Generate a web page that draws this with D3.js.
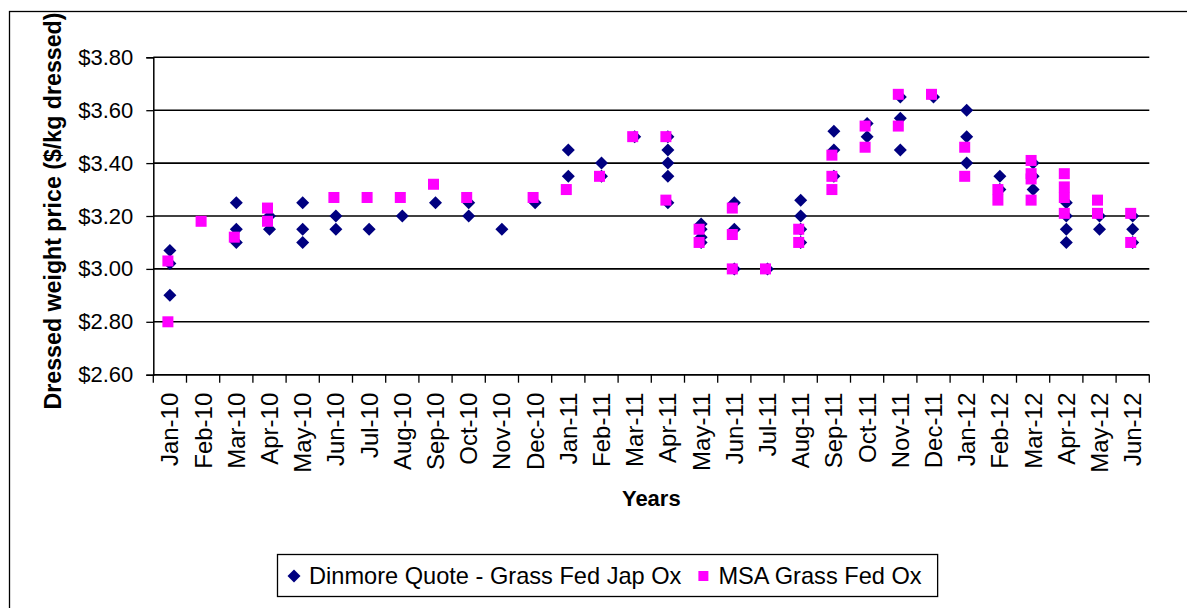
<!DOCTYPE html>
<html>
<head>
<meta charset="utf-8">
<script src="https://cdn.jsdelivr.net/npm/d3@7"></script>
<style>
  html, body { margin: 0; padding: 0; background: #fff; }
  svg { display: block; font-family: "Liberation Sans", Arial, sans-serif; }
</style>
</head>
<body>
<svg id="chart" width="1187" height="608"></svg>
<script>
const months = ["Jan-10","Feb-10","Mar-10","Apr-10","May-10","Jun-10","Jul-10","Aug-10","Sep-10","Oct-10","Nov-10","Dec-10",
  "Jan-11","Feb-11","Mar-11","Apr-11","May-11","Jun-11","Jul-11","Aug-11","Sep-11","Oct-11","Nov-11","Dec-11",
  "Jan-12","Feb-12","Mar-12","Apr-12","May-12","Jun-12"];

// Dinmore Quote - Grass Fed Jap Ox (several quotes per month)
const dinmore = [
  [3.07, 3.02, 2.90], [], [3.25, 3.15, 3.10], [3.20, 3.15], [3.25, 3.15, 3.10], [3.20, 3.15],
  [3.15], [3.20], [3.25], [3.25, 3.20], [3.15], [3.25],
  [3.45, 3.35], [3.40, 3.35], [3.50], [3.50, 3.45, 3.40, 3.35, 3.25], [3.17, 3.15, 3.12, 3.10], [3.25, 3.15, 3.00],
  [3.00], [3.26, 3.20, 3.15, 3.10], [3.52, 3.45, 3.35], [3.55, 3.50], [3.65, 3.57, 3.45], [3.65],
  [3.60, 3.50, 3.40], [3.35, 3.30], [3.40, 3.35, 3.30], [3.25, 3.20, 3.15, 3.10], [3.20, 3.15], [3.20, 3.15, 3.10]
];

// MSA Grass Fed Ox
const msa = [
  [3.03, 2.80], [3.18], [3.12], [3.23, 3.18], [], [3.27],
  [3.27], [3.27], [3.32], [3.27], [], [3.27],
  [3.30], [3.35], [3.50], [3.50, 3.26], [3.15, 3.10], [3.23, 3.13, 3.00],
  [3.00], [3.15, 3.10], [3.43, 3.35, 3.30], [3.54, 3.46], [3.66, 3.54], [3.66],
  [3.46, 3.35], [3.30, 3.26], [3.41, 3.36, 3.34, 3.26], [3.36, 3.31, 3.27, 3.21], [3.26, 3.21], [3.21, 3.10]
];

const yTicks = [2.60, 2.80, 3.00, 3.20, 3.40, 3.60, 3.80];
const seriesNames = ["Dinmore Quote - Grass Fed Jap Ox", "MSA Grass Fed Ox"];
const seriesColors = ["#000080", "#FF00FF"];

const svg = d3.select("#chart");
const plot = { left: 153.3, right: 1149.3, top: 57.3, bottom: 374.7 };

// outer chart border (extends past the right and bottom edges)
svg.append("rect")
  .attr("x", 9.5).attr("y", 11.5).attr("width", 1300).attr("height", 700)
  .attr("fill", "none").attr("stroke", "#000").attr("stroke-width", 1.3);

const x = d3.scaleBand().domain(months).range([plot.left, plot.right]).padding(0);
const y = d3.scaleLinear().domain([2.6, 3.8]).range([plot.bottom, plot.top]);

// gridlines
svg.append("g").selectAll("line").data(yTicks).join("line")
  .attr("x1", plot.left).attr("x2", plot.right)
  .attr("y1", d => y(d)).attr("y2", d => y(d))
  .attr("stroke", "#000").attr("stroke-width", 1.6);

// y axis
const yAxis = svg.append("g").attr("transform", `translate(${plot.left},0)`)
  .call(d3.axisLeft(y).tickValues(yTicks).tickFormat(d => "$" + d.toFixed(2)).tickSize(7).tickPadding(13));
yAxis.select(".domain").attr("stroke", "#000").attr("stroke-width", 1.5);
yAxis.selectAll(".tick line").attr("stroke", "#000").attr("stroke-width", 1.3);
yAxis.selectAll(".tick text").attr("font-size", 22).attr("fill", "#000")
  .attr("font-family", "Liberation Sans, Arial, sans-serif");

// x axis: boundary ticks + rotated labels
const xg = svg.append("g");
const bounds = months.map(m => x(m)).concat([x(months[months.length - 1]) + x.bandwidth()]);
xg.selectAll("line.tk").data(bounds).join("line").attr("class", "tk")
  .attr("x1", d => d).attr("x2", d => d).attr("y1", plot.bottom).attr("y2", plot.bottom + 8)
  .attr("stroke", "#000").attr("stroke-width", 1.3);
xg.append("line").attr("x1", plot.left).attr("x2", plot.right)
  .attr("y1", plot.bottom).attr("y2", plot.bottom).attr("stroke", "#000").attr("stroke-width", 1.6);
xg.selectAll("text").data(months).join("text")
  .attr("transform", d => `translate(${x(d) + x.bandwidth() / 2},${plot.bottom + 18}) rotate(-90)`)
  .attr("text-anchor", "end").attr("dy", "0.35em")
  .attr("font-size", 24).attr("fill", "#000")
  .text(d => d);

// axis titles
svg.append("text")
  .attr("transform", `translate(53,211) rotate(-90)`)
  .attr("text-anchor", "middle").attr("dy", "0.35em")
  .attr("font-size", 23.2).attr("font-weight", "bold").text("Dressed weight price ($/kg dressed)");
svg.append("text")
  .attr("x", (plot.left + plot.right) / 2).attr("y", 506)
  .attr("text-anchor", "middle")
  .attr("font-size", 22).attr("font-weight", "bold").text("Years");

// flatten
function flat(arr) {
  const out = [];
  arr.forEach((vals, i) => vals.forEach(v => out.push({ m: months[i], v })));
  return out;
}
const squareSide = 11;
const squareShift = -2;

svg.append("g").selectAll("path").data(flat(dinmore)).join("path")
  .attr("d", "M0,-6.5L6.5,0L0,6.5L-6.5,0Z")
  .attr("transform", d => `translate(${x(d.m) + x.bandwidth() / 2},${y(d.v)})`)
  .attr("fill", seriesColors[0]);

svg.append("g").selectAll("rect").data(flat(msa)).join("rect")
  .attr("x", d => x(d.m) + x.bandwidth() / 2 + squareShift - squareSide / 2)
  .attr("y", d => y(d.v) - squareSide / 2)
  .attr("width", squareSide).attr("height", squareSide)
  .attr("fill", seriesColors[1]);

// legend
const lg = svg.append("g");
const box = lg.append("rect").attr("x", 277.5).attr("y", 554.5).attr("height", 42)
  .attr("fill", "#fff").attr("stroke", "#000").attr("stroke-width", 1.3);
let cx = 294;
const ly = 576;
seriesNames.forEach((name, i) => {
  if (i === 0) {
    lg.append("path").attr("d", "M0,-6.5L6.5,0L0,6.5L-6.5,0Z")
      .attr("transform", `translate(${cx},${ly})`).attr("fill", seriesColors[0]);
  } else {
    lg.append("rect").attr("x", cx - 5).attr("y", ly - 5).attr("width", 10).attr("height", 10)
      .attr("fill", seriesColors[1]);
  }
  const t = lg.append("text").attr("x", cx + 15).attr("y", ly + 8)
    .attr("font-size", 23.6).attr("fill", "#000").text(name);
  const w = t.node().getComputedTextLength();
  cx = cx + 15 + w + 22;
});
box.attr("width", cx - 277.5 - 6);
</script>
</body>
</html>
